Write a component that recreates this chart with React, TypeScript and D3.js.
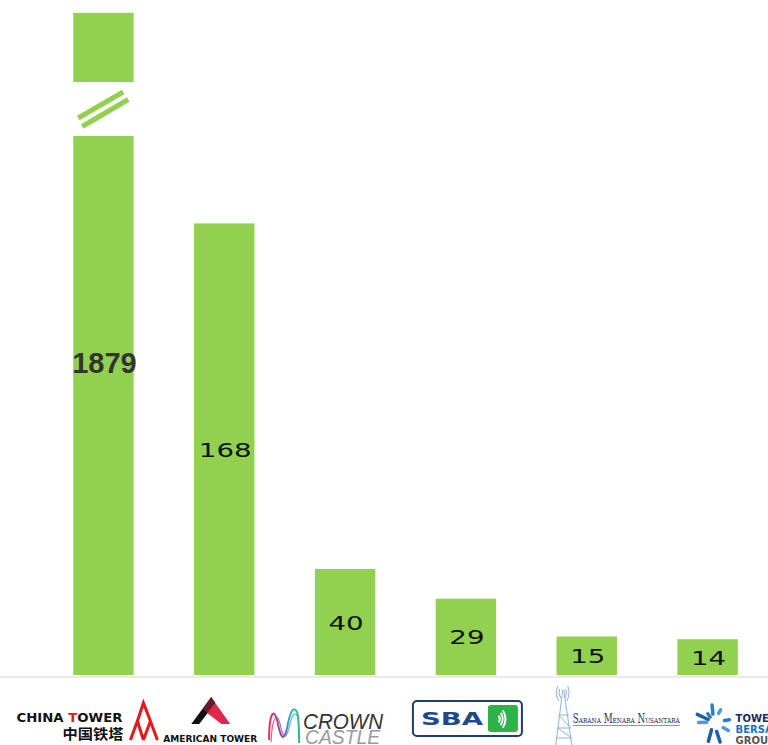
import React from "react";
import * as d3 from "d3";

const companies = ["China Tower", "American Tower", "Crown Castle", "SBA", "Sarana Menara Nusantara", "Tower Bersama Group"];
const towers = [1879, 168, 40, 29, 15, 14];
const valueLabels = ["1879", "168", "40", "29", "15", "14"];
const axisCap = 246; // value where the broken first bar is cut off

const W = 768;
const H = 745;
const GREEN = "#92D050";

export default function App() {
  const x = d3.scaleBand<string>().domain(companies).range([43, 768]).paddingInner(0.5).paddingOuter(0.25);
  const y = d3.scaleLinear().domain([0, 250]).range([677, 2]);
  const bw = x.bandwidth();
  const baseY = 675;

  const cx = (i: number) => (x(companies[i]) as number) + bw / 2;

  const burst = [
    [205, 6, 18, "#1b5fa6"],
    [265, 8, 17, "#2a7cc4"],
    [300, 10, 14, "#4a9bd8"],
    [352, 11, 16, "#2a7cc4"],
    [30, 11, 17, "#4a9bd8"],
    [72, 10, 21, "#1b5fa6"],
    [105, 8, 20, "#1b5fa6"],
    [178, 7, 15, "#4a9bd8"],
    [235, 6, 10, "#2a7cc4"],
  ] as [number, number, number, string][];

  return (
    <svg width={W} height={H} style={{ position: "absolute", left: 0, top: 0, background: "#fff" }}>
      <defs>
        <linearGradient id="crownGrad" x1="0" x2="1" y1="0" y2="0">
          <stop offset="0" stopColor="#e0365f" />
          <stop offset="0.45" stopColor="#8b4fa6" />
          <stop offset="0.7" stopColor="#3aa9c8" />
          <stop offset="1" stopColor="#2fbf7a" />
        </linearGradient>
      </defs>
      <rect x={0} y={0} width={W} height={H} fill="#fff" />

      {/* baseline */}
      <line x1={0} x2={W} y1={677} y2={677} stroke="#e3e3e3" strokeWidth={1.5} />

      {/* bars */}
      {towers.map((v, i) => {
        const top = y(Math.min(v, axisCap));
        return (
          <rect key={companies[i]} x={x(companies[i])} y={top} width={bw} height={baseY - top} fill={GREEN} />
        );
      })}

      {/* axis break on first bar */}
      {(() => {
        const x0 = x(companies[0]) as number;
        return (
          <g>
            <rect x={x0 - 2} y={82} width={bw + 4} height={54} fill="#fff" />
            <line x1={x0 + 5} y1={118} x2={x0 + 50} y2={92} stroke={GREEN} strokeWidth={5} />
            <line x1={x0 + 9} y1={126.5} x2={x0 + 55} y2={99.5} stroke={GREEN} strokeWidth={5} />
          </g>
        );
      })()}

      {/* value labels */}
      <text x={cx(0) + 1} y={373} textAnchor="middle" fontFamily="Liberation Sans, Arial, sans-serif" fontWeight="bold" fontSize={29} fill="#333">
        {valueLabels[0]}
      </text>
      {towers.slice(1).map((v, j) => {
        const i = j + 1;
        const top = y(v);
        const mid = (top + baseY) / 2;
        const lab = valueLabels[i];
        return (
          <text
            key={lab}
            x={cx(i) - (lab.length * 17.6) / 2 + 1}
            y={mid + 7.5}
            fontFamily="DejaVu Sans, sans-serif"
            fontSize={19.5}
            fill="#111"
            textLength={lab.length * 17.6}
            lengthAdjust="spacingAndGlyphs"
          >
            {lab}
          </text>
        );
      })}

      {/* ---- logos ---- */}
      {/* China Tower */}
      <g transform={`translate(${cx(0) - 103},0)`}>
        <text x={16} y={722} fontFamily="DejaVu Sans, sans-serif" fontWeight="bold" fontSize={11.5} textLength={106} lengthAdjust="spacingAndGlyphs" fill="#111">
          CHINA <tspan fill="#e3191b">T</tspan>OWER
        </text>
        <text x={62} y={739} fontFamily="Noto Sans CJK SC, sans-serif" fontWeight="bold" fontSize={14} textLength={61} lengthAdjust="spacingAndGlyphs" fill="#111">
          中国铁塔
        </text>
        <path d="M130,740 L137,721 L143,740 M143,740 L150,721 L157,740 M137,721 L143,703 L150,721" fill="none" stroke="#e3191b" strokeWidth={3} strokeLinejoin="miter" />
      </g>

      {/* American Tower */}
      <g transform={`translate(${cx(1) - 224},0)`}>
        <polygon points="211,697 191,724 199,724 215,703" fill="#111" />
        <polygon points="215,703 230,724 221,724 207,713" fill="#e0294a" />
        <polygon points="211,697 215,703 207,713 203,709" fill="#6a1a28" />
        <text x={163} y={742} fontFamily="DejaVu Sans, sans-serif" fontWeight="bold" fontSize={9} textLength={94} lengthAdjust="spacingAndGlyphs" fill="#111">
          AMERICAN TOWER
        </text>
      </g>

      {/* Crown Castle */}
      <g transform={`translate(${cx(2) - 345},0)`}>
        <path d="M269,740 C269,712 274,708 277,720 C280,735 283,745 287,728 C290,712 293,705 297,712 C299,720 299,732 299,743" fill="none" stroke="url(#crownGrad)" strokeWidth={2} />
        <path d="M271,742 C272,716 277,712 280,724 C283,738 286,742 290,724 C292,714 295,712 297,716" fill="none" stroke="url(#crownGrad)" strokeWidth={1.2} opacity={0.8} />
        <text x={303} y={729} fontFamily="Liberation Sans, Arial, sans-serif" fontStyle="italic" fontWeight={300} fontSize={22} textLength={80} lengthAdjust="spacingAndGlyphs" fill="#333">
          CROWN
        </text>
        <text x={305} y={744} fontFamily="Liberation Sans, Arial, sans-serif" fontStyle="italic" fontSize={20} textLength={75} lengthAdjust="spacingAndGlyphs" fill="#9a9a9a">
          CASTLE
        </text>
      </g>

      {/* SBA */}
      <g transform={`translate(${cx(3) - 466},0)`}>
        <rect x={413} y={701} width={109} height={35} rx={4} fill="#fff" stroke="#1e3f6e" strokeWidth={2} />
        <text x={421} y={725} fontFamily="DejaVu Sans, sans-serif" fontWeight="bold" fontSize={17} textLength={62} lengthAdjust="spacingAndGlyphs" fill="#1f4a8a">
          SBA
        </text>
        <rect x={488} y={705} width={30} height={27} rx={3} fill="#2db34a" />
        {[4, 8, 12].map((r) => {
          const a = (42 * Math.PI) / 180;
          const ox = 497;
          const oy = 719;
          return (
            <path
              key={r}
              d={`M${ox + r * Math.cos(a) * 0.7},${oy - r * Math.sin(a)} A${r * 0.75},${r} 0 0 1 ${ox + r * Math.cos(a) * 0.7},${oy + r * Math.sin(a)}`}
              fill="none"
              stroke="#fff"
              strokeWidth={2}
              strokeLinecap="round"
            />
          );
        })}
      </g>

      {/* Sarana Menara Nusantara */}
      <g transform={`translate(${cx(4) - 586},0)`}>
        <path d="M562,690 L555,745 M563,690 L571,745 M558,715 L568,715 M557,728 L570,728 M556,738 L571,738 M558,715 L570,728 M557,728 L571,738" fill="none" stroke="#8db3da" strokeWidth={1} />
        <path d="M557,686 Q554,694 558,701 M567,686 Q570,694 566,701 M559,689 Q557,694 560,698 M565,689 Q567,694 564,698" fill="none" stroke="#8db3da" strokeWidth={1} />
        <text x={572} y={723} fontFamily="DejaVu Serif, serif" fontSize={12} style={{ fontVariant: "small-caps" }} textLength={107} lengthAdjust="spacingAndGlyphs" fill="#1d2a55">
          Sarana Menara Nusantara
        </text>
        <line x1={572} x2={679} y1={725.5} y2={725.5} stroke="#6b7a99" strokeWidth={0.8} />
      </g>

      {/* Tower Bersama Group */}
      <g transform={`translate(${cx(5) - 707},0)`}>
        {burst.map(([ang, r1, r2, col], k) => {
          const a = (ang * Math.PI) / 180;
          const ox = 713;
          const oy = 722;
          return (
            <line
              key={k}
              x1={ox + r1 * Math.cos(a)}
              y1={oy + r1 * Math.sin(a)}
              x2={ox + r2 * Math.cos(a)}
              y2={oy + r2 * Math.sin(a)}
              stroke={col}
              strokeWidth={3.5}
              strokeLinecap="round"
            />
          );
        })}
        <text x={735} y={722} fontFamily="DejaVu Sans, sans-serif" fontWeight="bold" fontSize={10} fill="#1d2d5c">
          TOWER
        </text>
        <text x={735} y={733} fontFamily="DejaVu Sans, sans-serif" fontWeight="bold" fontSize={10} fill="#1e6fb8">
          BERSAMA
        </text>
        <text x={735} y={744} fontFamily="DejaVu Sans, sans-serif" fontWeight="bold" fontSize={10} fill="#555">
          GROUP
        </text>
      </g>
    </svg>
  );
}
